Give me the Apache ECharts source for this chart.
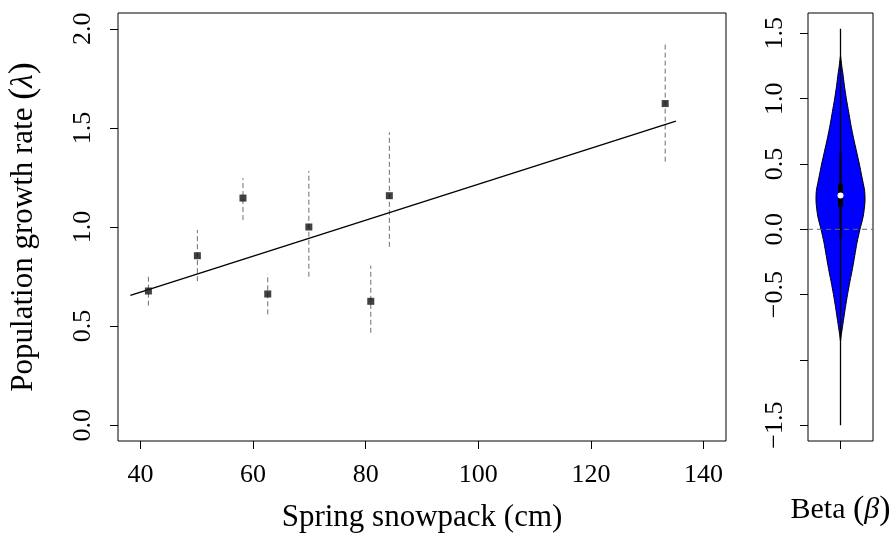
<!DOCTYPE html>
<html>
<head>
<meta charset="utf-8">
<script src="https://cdn.jsdelivr.net/npm/echarts@6/dist/echarts.min.js"></script>
<style>
html,body{margin:0;padding:0;background:#fff;}
#chart{width:892px;height:535px;}
</style>
</head>
<body>
<div id="chart"></div>
<script>
// ---- data ----
var snowpack = [41.4, 50.1, 58.2, 62.6, 69.9, 80.9, 84.2, 133.2];
var growthRate = [0.677, 0.855, 1.146, 0.662, 1.000, 0.625, 1.158, 1.623];
var growthLower = [0.603, 0.727, 1.035, 0.559, 0.749, 0.466, 0.900, 1.330];
var growthUpper = [0.749, 0.985, 1.246, 0.763, 1.283, 0.805, 1.478, 1.928];
var fitX = [38.2, 135.1];
var fitY = [0.655, 1.534];
var xTicks = [40, 60, 80, 100, 120, 140];
var yTicks = [0, 0.5, 1.0, 1.5, 2.0];

// violin (posterior of beta)
var violinY = [1.33, 1.25, 1.2, 1.1, 1.0, 0.9, 0.8, 0.7, 0.6, 0.5, 0.4, 0.3, 0.25, 0.2, 0.1, 0.0, -0.1, -0.2, -0.3, -0.4, -0.5, -0.6, -0.7, -0.8, -0.86];
var violinHalfWidth = [0, 0.02, 0.035, 0.06, 0.09, 0.125, 0.16, 0.2, 0.245, 0.29, 0.33, 0.37, 0.377, 0.375, 0.35, 0.30, 0.255, 0.22, 0.185, 0.145, 0.108, 0.075, 0.045, 0.015, 0];
var betaRange = [-1.50, 1.535];
var betaCI = [-0.07, 0.59];
var betaIQR = [0.174, 0.348];
var betaMedian = 0.258;
var betaTicks = [-1.5, -1.0, -0.5, 0.0, 0.5, 1.0, 1.5];
var betaLabels = [-1.5, -0.5, 0.0, 0.5, 1.0, 1.5];

var FONT = 'Liberation Serif';
function fmt(v){ var s = Math.abs(v).toFixed(1); return v < 0 ? '\u2212' + s : s; }

var errData = snowpack.map(function(x, i){ return [x, growthLower[i], growthUpper[i]]; });
var ptData = snowpack.map(function(x, i){ return [x, growthRate[i]]; });
var fitData = fitX.map(function(x, i){ return [x, fitY[i]]; });

var violinPts = [];
for (var i = 0; i < violinY.length; i++) violinPts.push([1 + violinHalfWidth[i], violinY[i]]);
for (var j = violinY.length - 1; j >= 0; j--) violinPts.push([1 - violinHalfWidth[j], violinY[j]]);

var chart = echarts.init(document.getElementById('chart'), null, {renderer: 'canvas'});
var axisTextStyle = {fontFamily: FONT, fontSize: 26, color: '#000'};
var option = {
  backgroundColor: '#fff',
  animation: false,
  grid: [
    {left: 118, top: 13, width: 608, height: 428, show: true, borderColor: '#000', borderWidth: 1, backgroundColor: 'transparent', containLabel: false, outerBoundsMode: 'none'},
    {left: 808, top: 13, width: 65, height: 428, show: true, borderColor: '#000', borderWidth: 1, backgroundColor: 'transparent', containLabel: false, outerBoundsMode: 'none'}
  ],
  xAxis: [
    {gridIndex: 0, type: 'value', min: 36, max: 144,
     axisLine: {show: false, onZero: false},
     axisTick: {show: true, length: 8, customValues: xTicks, lineStyle: {color: '#000', width: 1}},
     axisLabel: Object.assign({customValues: xTicks, margin: 21}, axisTextStyle),
     splitLine: {show: false},
     name: 'Spring snowpack (cm)', nameLocation: 'middle', nameGap: 61,
     nameTextStyle: {fontFamily: FONT, fontSize: 31, color: '#000'}},
    {gridIndex: 1, type: 'value', min: 0.5, max: 1.5,
     axisLine: {show: false, onZero: false},
     axisTick: {show: true, length: 8, customValues: [1], lineStyle: {color: '#000', width: 1}},
     axisLabel: {show: false},
     splitLine: {show: false},
     name: '{t|Beta }{p|(}{g|\u03B2}{p|)}', nameLocation: 'middle', nameGap: 52,
     nameTextStyle: {fontFamily: FONT, fontSize: 30, color: '#000',
       rich: {t: {fontFamily: FONT, fontSize: 30, color: '#000'},
              p: {fontFamily: FONT, fontSize: 34, color: '#000'},
              g: {fontFamily: FONT, fontSize: 30, fontStyle: 'italic', color: '#000'}}}}
  ],
  yAxis: [
    {gridIndex: 0, type: 'value', min: -0.08, max: 2.08,
     axisLine: {show: false, onZero: false},
     axisTick: {show: true, length: 8, customValues: yTicks, lineStyle: {color: '#000', width: 1}},
     axisLabel: Object.assign({customValues: yTicks, rotate: 90, margin: 22, formatter: fmt}, axisTextStyle),
     splitLine: {show: false},
     name: '{t|Population growth rate }{p|(}{g|\u03BB}{p|)}', nameLocation: 'middle', nameGap: 76, nameRotate: 90,
     nameTextStyle: {fontFamily: FONT, fontSize: 31, color: '#000',
       rich: {t: {fontFamily: FONT, fontSize: 31, color: '#000'},
              p: {fontFamily: FONT, fontSize: 36, color: '#000'},
              g: {fontFamily: FONT, fontSize: 31, fontStyle: 'italic', color: '#000'}}}},
    {gridIndex: 1, type: 'value', min: -1.621, max: 1.656,
     axisLine: {show: false, onZero: false},
     axisTick: {show: true, length: 8, customValues: betaTicks, lineStyle: {color: '#000', width: 1}},
     axisLabel: Object.assign({customValues: betaLabels, rotate: 90, margin: 20, formatter: fmt}, axisTextStyle),
     splitLine: {show: false}}
  ],
  series: [
    {type: 'custom', xAxisIndex: 0, yAxisIndex: 0, data: errData, z: 2,
     renderItem: function(params, api){
       var a = api.coord([api.value(0), api.value(1)]);
       var b = api.coord([api.value(0), api.value(2)]);
       return {type: 'line', shape: {x1: a[0], y1: a[1], x2: b[0], y2: b[1]},
               style: {stroke: '#6e6e6e', lineWidth: 1, lineDash: [5, 3]}};
     }},
    {type: 'line', xAxisIndex: 0, yAxisIndex: 0, data: fitData, symbol: 'none', z: 3,
     lineStyle: {color: '#000', width: 1.4}},
    {type: 'scatter', xAxisIndex: 0, yAxisIndex: 0, data: ptData, symbol: 'rect', symbolSize: 7, z: 4,
     itemStyle: {color: '#111'}},
    // zero reference line in violin panel
    {type: 'line', xAxisIndex: 1, yAxisIndex: 1, data: [[0.5, 0], [1.5, 0]], symbol: 'none', z: 5,
     lineStyle: {color: '#666', width: 1, type: [5, 4]}},
    // violin body
    {type: 'custom', xAxisIndex: 1, yAxisIndex: 1, data: [0], z: 3,
     renderItem: function(params, api){
       var pts = violinPts.map(function(p){ return api.coord(p); });
       return {type: 'polygon', shape: {points: pts, smooth: 0.25},
               style: {fill: '#0000ff', stroke: '#000', lineWidth: 1}};
     }},
    // whiskers, box, median
    {type: 'custom', xAxisIndex: 1, yAxisIndex: 1, data: [0], z: 4,
     renderItem: function(params, api){
       var t = api.coord([1, betaRange[1]]), b = api.coord([1, betaRange[0]]);
       var ct = api.coord([1, betaCI[1]]), cb = api.coord([1, betaCI[0]]);
       var qt = api.coord([1, betaIQR[1]]), qb = api.coord([1, betaIQR[0]]);
       var m = api.coord([1, betaMedian]);
       return {type: 'group', children: [
         {type: 'line', shape: {x1: t[0], y1: t[1], x2: b[0], y2: b[1]}, style: {stroke: '#000', lineWidth: 1.3}},
         {type: 'line', shape: {x1: ct[0], y1: ct[1], x2: cb[0], y2: cb[1]}, style: {stroke: '#000', lineWidth: 2}},
         {type: 'rect', shape: {x: qt[0] - 2.5, y: qt[1], width: 5, height: qb[1] - qt[1]}, style: {fill: '#000'}},
         {type: 'circle', shape: {cx: m[0], cy: m[1], r: 3}, style: {fill: '#fff'}}
       ]};
     }}
  ]
};
chart.setOption(option);
</script>
</body>
</html>
